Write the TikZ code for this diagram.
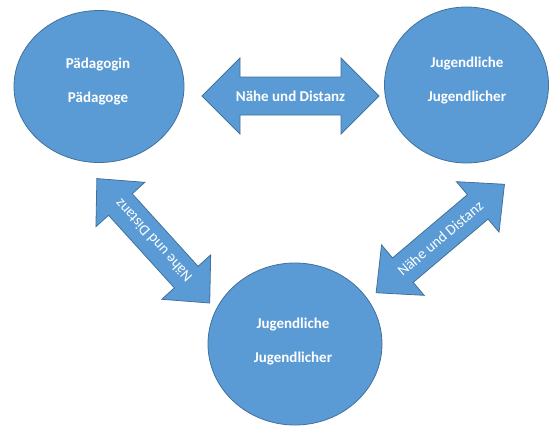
\documentclass[tikz,border=0pt]{standalone}
\usepackage{fontspec}
\setmainfont{Carlito}
\usetikzlibrary{shapes.geometric}
\definecolor{fillblue}{HTML}{5B9BD5}
\definecolor{edgeblue}{HTML}{41719C}
% #1 name, #2 centre, #3 angle, #4 half length, #5 head length, #6 head half width,
% #7 shaft half width, #8 font, #9 text
\newcommand{\blockarrow}[9]{%
  \begin{scope}[shift={#2}, rotate=#3]
    \path[arrowbody] (-#4,0) -- (-#4+#5,#6) -- (-#4+#5,#7) -- (#4-#5,#7) -- (#4-#5,#6)
      -- (#4,0) -- (#4-#5,-#6) -- (#4-#5,-#7) -- (-#4+#5,-#7) -- (-#4+#5,-#6) -- cycle;
    \node[arrowtext, rotate=#3, font=#8] (#1) at (0,0) {#9};
  \end{scope}}
\begin{document}
\begin{tikzpicture}[x=1pt,y=-1pt,
  blob/.style={ellipse, draw=edgeblue, fill=fillblue, line width=0.8pt, inner sep=0pt},
  lbl/.style={text=white, font=\bfseries\fontsize{15}{18}\selectfont, align=center, inner sep=0pt},
  arrowbody/.style={draw=edgeblue, fill=fillblue, line width=0.8pt, line join=miter},
  arrowtext/.style={text=white, inner sep=0pt}]
\useasboundingbox (0,0) rectangle (554,426);
% circles
\node[blob, minimum width=170pt, minimum height=152pt] (p) at (99,86.5) {};
\node[blob, minimum width=164pt, minimum height=156pt] (j1) at (466.5,85) {};
\node[blob, minimum width=174pt, minimum height=162pt] (j2) at (295,344) {};
% labels
\node[lbl] (pl) at (98,81.5) {Pädagogin\\[16pt]Pädagoge};
\node[lbl] (j1l) at (467,81) {Jugendliche\\[16pt]Jugendlicher};
\node[lbl] (j2l) at (293,341.5) {Jugendliche\\[16pt]Jugendlicher};
% double arrows
\blockarrow{a1}{(290.5,96)}{0}{88.5}{38}{38}{19}{\bfseries\fontsize{15}{18}\selectfont}{Nähe und Distanz}
\blockarrow{a2}{(153.3,240.8)}{132.2}{84}{35}{33}{16}{\fontsize{15}{18}\selectfont}{Nähe und Distanz}
\blockarrow{a3}{(440.3,238.5)}{40.2}{84}{35}{33}{16}{\fontsize{15}{18}\selectfont}{Nähe und Distanz}
\end{tikzpicture}
\end{document}
